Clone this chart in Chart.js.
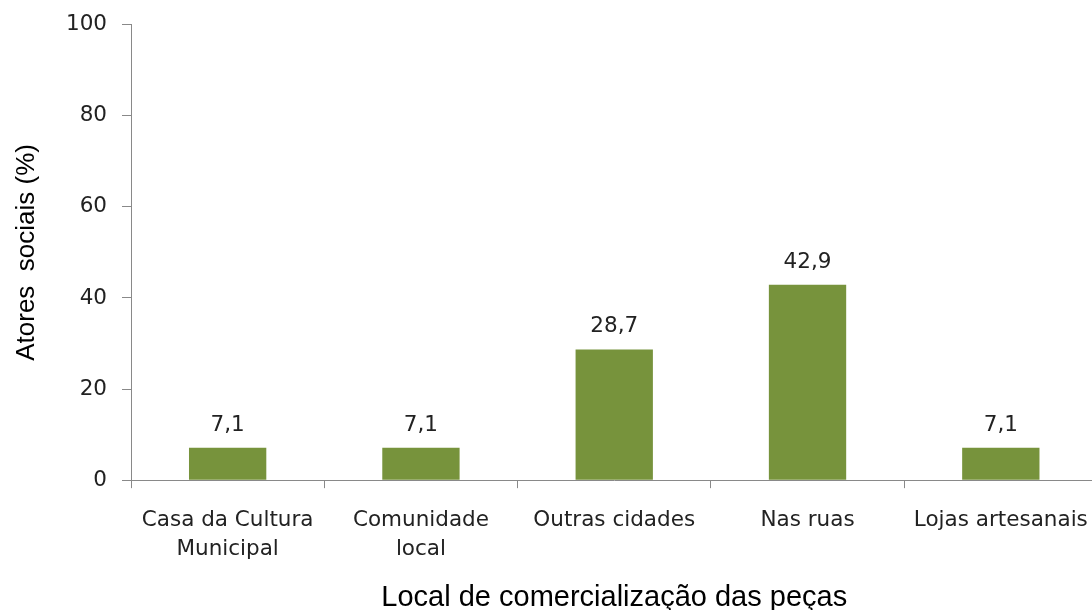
<!DOCTYPE html>
<html>
<head>
<meta charset="utf-8">
<script src="https://cdn.jsdelivr.net/npm/chart.js@4"></script>
<style>
  html, body { margin: 0; padding: 0; background: #fff; overflow: hidden; }
  #wrap { position: relative; width: 1106px; height: 622px; }
</style>
</head>
<body>
<div id="wrap"><canvas id="myChart"></canvas></div>
<script>
const categories = [['Casa da Cultura', 'Municipal'], ['Comunidade', 'local'], 'Outras cidades', 'Nas ruas', 'Lojas artesanais'];
const values = [7.1, 7.1, 28.7, 42.9, 7.1];
const yTicks = [0, 20, 40, 60, 80, 100];

const axisGray = '#898989';
const barGreen = '#77933C';
const textFont = 'DejaVu Sans';

// writes the value over each bar, with a comma as decimal mark
const valueLabels = {
    id: 'valueLabels',
    afterDatasetsDraw(chart) {
        const ctx = chart.ctx;
        const meta = chart.getDatasetMeta(0);
        ctx.save();
        ctx.font = '21.5px "' + textFont + '"';
        ctx.fillStyle = '#222';
        ctx.textAlign = 'center';
        ctx.textBaseline = 'alphabetic';
        meta.data.forEach(function (bar, i) {
            ctx.fillText(values[i].toFixed(1).replace('.', ','), bar.x, bar.y - 17);
        });
        ctx.restore();
    }
};

function myLoadFunction() {
    const ctx = document.getElementById('myChart').getContext('2d');
    var config = {
        type: 'bar',
        data: {
            labels: categories,
            datasets: [{
                data: values,
                backgroundColor: barGreen,
                barPercentage: 0.4,
                categoryPercentage: 1
            }]
        },
        options: {
            responsive: true,
            maintainAspectRatio: false,
            animation: false,
            layout: { padding: { top: 10, right: 2, left: 0, bottom: 0 } },
            plugins: {
                legend: { display: false },
                tooltip: { enabled: false }
            },
            scales: {
                x: {
                    grid: { drawOnChartArea: false, color: axisGray, tickLength: 8, offset: true },
                    border: { color: axisGray, width: 1 },
                    ticks: { color: '#222', font: { family: textFont, size: 21.5, lineHeight: 1.35 }, padding: 18, maxRotation: 0, autoSkip: false },
                    title: {
                        display: true,
                        text: 'Local de comercialização das peças',
                        color: '#000',
                        font: { family: 'Liberation Sans', size: 29 },
                        padding: { top: -2, bottom: 7 }
                    }
                },
                y: {
                    min: 0,
                    max: 100,
                    afterBuildTicks: function (axis) {
                        axis.ticks = yTicks.map(function (v) { return { value: v }; });
                    },
                    afterFit: function (axis) { axis.width = 131; },
                    grid: { drawOnChartArea: false, color: axisGray, tickLength: 9 },
                    border: { color: axisGray, width: 1 },
                    ticks: { color: '#222', font: { family: textFont, size: 21.5, lineHeight: 0.9 }, padding: 15 },
                    title: {
                        display: true,
                        text: 'Atores  sociais (%)',
                        color: '#000',
                        font: { family: 'Liberation Sans', size: 26 },
                        padding: { top: 11, bottom: 0 }
                    }
                }
            }
        },
        plugins: [valueLabels]
    };

    const myChart = new Chart(ctx, config);
}

document.addEventListener('DOMContentLoaded', myLoadFunction);
</script>
</body>
</html>
